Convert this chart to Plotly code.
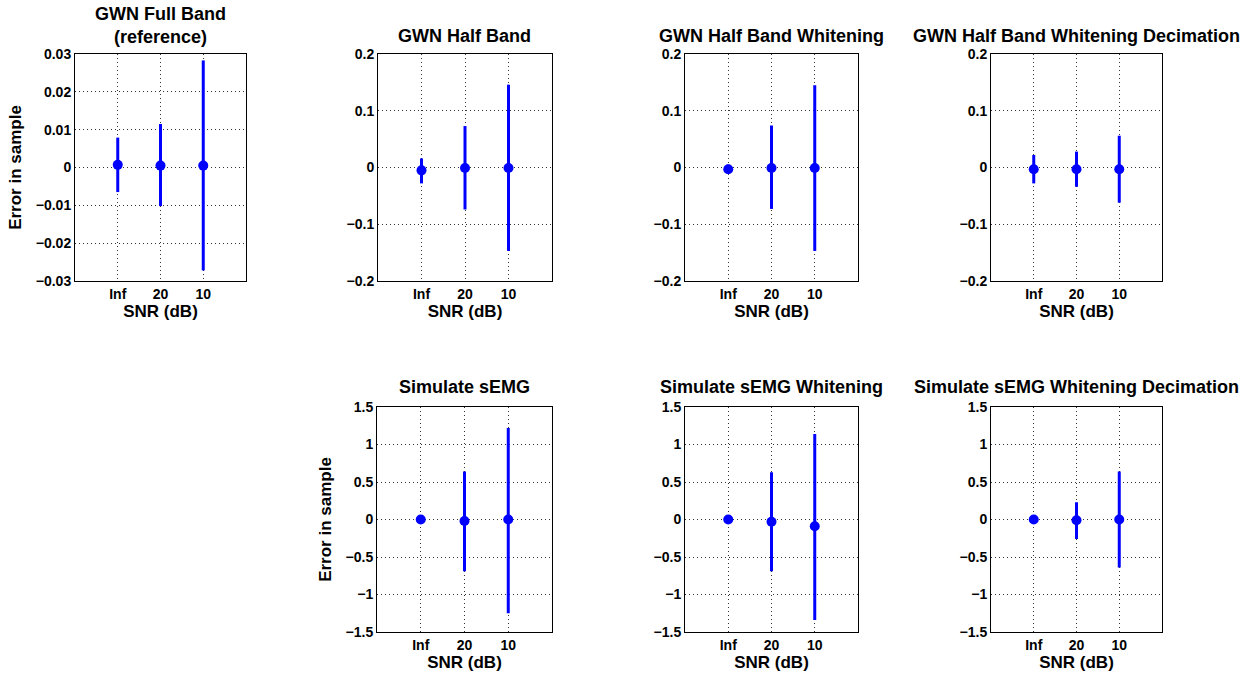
import plotly.graph_objects as go

snr_labels = ["Inf", "20", "10"]
snr_pos = [1, 2, 3]

titles = [
    "GWN Full Band<br>(reference)",
    "GWN Half Band",
    "GWN Half Band Whitening",
    "GWN Half Band Whitening Decimation",
    "Simulate sEMG",
    "Simulate sEMG Whitening",
    "Simulate sEMG Whitening Decimation",
]

# mean error, upper extent, lower extent
gwn_full_mean = [0.0007, 0.0005, 0.0005]
gwn_full_hi = [0.0079, 0.0115, 0.0283]
gwn_full_lo = [-0.0065, -0.0102, -0.0272]

gwn_half_mean = [-0.005, -0.001, -0.001]
gwn_half_hi = [0.016, 0.073, 0.146]
gwn_half_lo = [-0.028, -0.074, -0.147]

gwn_half_w_mean = [-0.003, -0.001, -0.001]
gwn_half_w_hi = [0.005, 0.074, 0.145]
gwn_half_w_lo = [-0.010, -0.073, -0.147]

gwn_half_wd_mean = [-0.003, -0.003, -0.003]
gwn_half_wd_hi = [0.022, 0.028, 0.056]
gwn_half_wd_lo = [-0.028, -0.034, -0.062]

semg_mean = [0.0, -0.02, 0.0]
semg_hi = [0.02, 0.64, 1.22]
semg_lo = [-0.02, -0.69, -1.25]

semg_w_mean = [0.0, -0.03, -0.09]
semg_w_hi = [0.02, 0.63, 1.14]
semg_w_lo = [-0.02, -0.69, -1.34]

semg_wd_mean = [0.0, -0.01, 0.0]
semg_wd_hi = [0.02, 0.23, 0.64]
semg_wd_lo = [-0.02, -0.26, -0.64]

series = [
    (gwn_full_mean, gwn_full_hi, gwn_full_lo),
    (gwn_half_mean, gwn_half_hi, gwn_half_lo),
    (gwn_half_w_mean, gwn_half_w_hi, gwn_half_w_lo),
    (gwn_half_wd_mean, gwn_half_wd_hi, gwn_half_wd_lo),
    (semg_mean, semg_hi, semg_lo),
    (semg_w_mean, semg_w_hi, semg_w_lo),
    (semg_wd_mean, semg_wd_hi, semg_wd_lo),
]

yticks_full = [-0.03, -0.02, -0.01, 0, 0.01, 0.02, 0.03]
yticks_half = [-0.2, -0.1, 0, 0.1, 0.2]
yticks_semg = [-1.5, -1, -0.5, 0, 0.5, 1, 1.5]
ytick_sets = [yticks_full, yticks_half, yticks_half, yticks_half,
              yticks_semg, yticks_semg, yticks_semg]

W, H = 1249, 677
# pixel boxes in the screenshot (left, right, top, bottom)
boxes = [
    (75, 246, 54, 281),
    (378, 552, 54, 281),
    (685, 858, 54, 281),
    (991, 1162, 54, 281),
    (377, 552, 407, 632),
    (685, 858, 407, 632),
    (991, 1162, 407, 632),
]

FONT = "Liberation Sans"
TICKFONT = dict(family=FONT, size=14, color="black", weight="bold")
LABELFONT = dict(family=FONT, size=17, color="black")
fig = go.Figure()
layout = {}
annotations = []
for i, (box, (m, hi, lo), yt, title) in enumerate(zip(boxes, series, ytick_sets, titles)):
    n = i + 1
    xa = "xaxis" if n == 1 else f"xaxis{n}"
    ya = "yaxis" if n == 1 else f"yaxis{n}"
    xr = "x" if n == 1 else f"x{n}"
    yr = "y" if n == 1 else f"y{n}"
    l, r, t, b = box
    plus = [h - v for h, v in zip(hi, m)]
    minus = [v - lo_ for v, lo_ in zip(m, lo)]
    fig.add_trace(go.Scatter(
        x=snr_pos, y=m, mode="markers",
        marker=dict(color="#0000ff", size=10),
        error_y=dict(type="data", symmetric=False, array=plus, arrayminus=minus,
                     color="#0000ff", thickness=3, width=0),
        xaxis=xr, yaxis=yr, showlegend=False, hoverinfo="skip",
    ))
    common = dict(showline=True, mirror=True, linecolor="black", linewidth=1,
                  showgrid=True, gridcolor="#333333", gridwidth=1, griddash="1px,3px",
                  zeroline=False, ticks="", automargin=False, tickfont=TICKFONT)
    layout[xa] = dict(common, domain=[l / W, r / W], range=[0, 4], anchor=yr,
                      tickmode="array", tickvals=snr_pos, ticktext=snr_labels,
                      title=dict(text="<b>SNR (dB)</b>", font=LABELFONT, standoff=0))
    layout[ya] = dict(common, domain=[1 - b / H, 1 - t / H], range=[yt[0], yt[-1]], anchor=xr,
                      tickmode="array", tickvals=yt)
    if n in (1, 5):
        layout[ya]["title"] = dict(text="<b>Error in sample</b>", font=LABELFONT, standoff=9)
    ty = 25 if n == 1 else (36 if n <= 4 else 387)
    annotations.append(dict(text=f"<b>{title}</b>", x=(l + r) / 2 / W, y=1 - ty / H,
                            xref="paper", yref="paper", showarrow=False,
                            xanchor="center", yanchor="middle",
                            font=dict(family=FONT, size=18, color="black")))

fig.update_layout(**layout)
fig.update_layout(
    width=W, height=H, margin=dict(l=0, r=0, t=0, b=0, autoexpand=False),
    paper_bgcolor="white", plot_bgcolor="white",
    annotations=annotations,
    font=dict(family=FONT, color="black"),
)
fig.write_html("out.html", config={"displayModeBar": False},
               post_script="document.body.style.margin='0';document.body.style.overflow='hidden';")
